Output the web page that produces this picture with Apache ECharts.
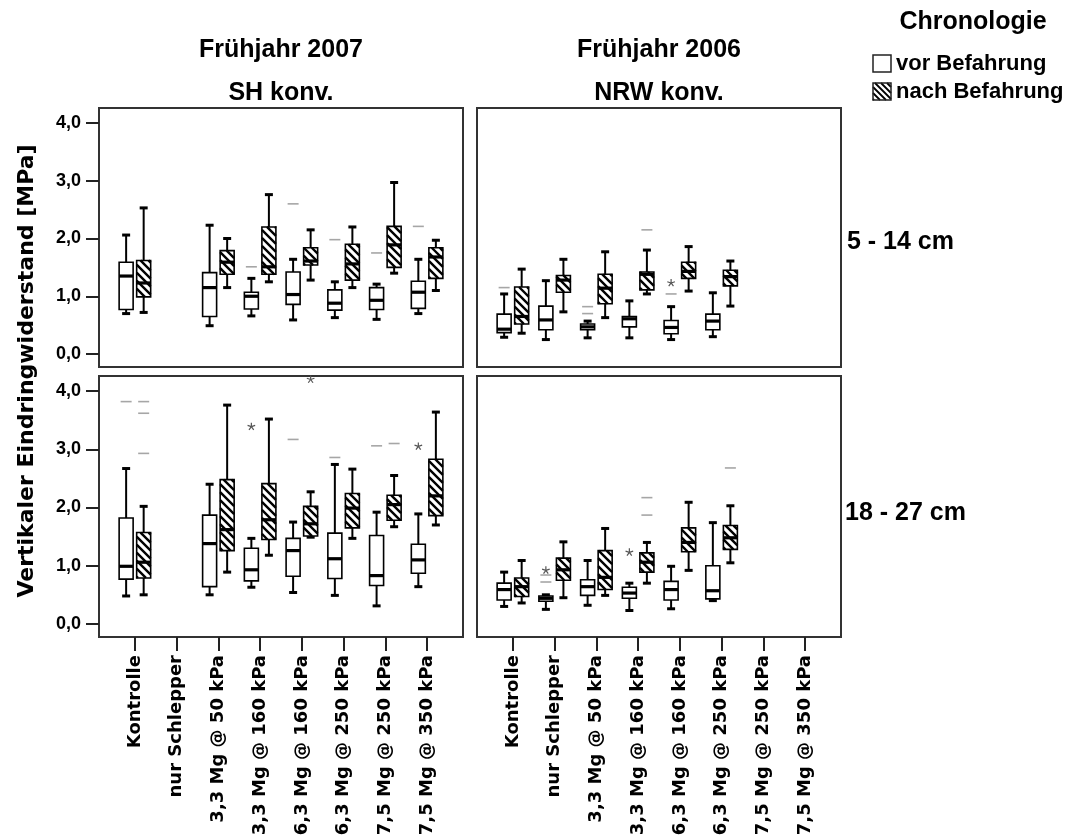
<!DOCTYPE html>
<html>
<head>
<meta charset="utf-8">
<script src="https://cdn.jsdelivr.net/npm/echarts@6/dist/echarts.min.js"></script>
<style>
  html, body { margin: 0; padding: 0; background: #fff; }
  #chart { width: 1074px; height: 840px; }
</style>
</head>
<body>
<div id="chart"></div>
<script>
// Treatment categories along the x axis
const categories = ['Kontrolle', 'nur Schlepper', '3,3 Mg @ 50 kPa', '3,3 Mg @ 160 kPa',
  '6,3 Mg @ 160 kPa', '6,3 Mg @ 250 kPa', '7,5 Mg @ 250 kPa', '7,5 Mg @ 350 kPa'];
const yTicks = [0, 1, 2, 3, 4];

// Box statistics per category: [whisker low, Q1, median, Q3, whisker high], null = no data
// SH konv. (Frühjahr 2007), 5 - 14 cm
const shTop_vor = [[0.70, 0.77, 1.35, 1.59, 2.06], null, [0.49, 0.65, 1.15, 1.41, 2.23], [0.66, 0.78, 1.00, 1.07, 1.31],
  [0.59, 0.86, 1.03, 1.42, 1.64], [0.63, 0.76, 0.88, 1.11, 1.25], [0.60, 0.77, 0.93, 1.15, 1.21], [0.70, 0.79, 1.07, 1.26, 1.64]];
const shTop_nach = [[0.72, 0.99, 1.23, 1.62, 2.53], null, [1.15, 1.38, 1.59, 1.79, 2.00], [1.25, 1.38, 1.51, 2.20, 2.76],
  [1.28, 1.54, 1.61, 1.84, 2.15], [1.15, 1.28, 1.56, 1.90, 2.20], [1.40, 1.50, 1.89, 2.21, 2.97], [1.10, 1.31, 1.68, 1.84, 1.97]];
// NRW konv. (Frühjahr 2006), 5 - 14 cm
const nrwTop_vor = [[0.29, 0.37, 0.43, 0.69, 1.04], [0.25, 0.42, 0.59, 0.83, 1.27], [0.28, 0.42, 0.47, 0.52, 0.57], [0.28, 0.47, 0.61, 0.65, 0.92],
  [0.25, 0.35, 0.46, 0.58, 0.82], [0.30, 0.42, 0.57, 0.69, 1.06], null, null];
const nrwTop_nach = [[0.36, 0.52, 0.65, 1.16, 1.47], [0.73, 1.07, 1.28, 1.36, 1.64], [0.63, 0.87, 1.14, 1.38, 1.77], [1.04, 1.11, 1.38, 1.42, 1.80],
  [1.09, 1.31, 1.43, 1.59, 1.86], [0.83, 1.18, 1.34, 1.45, 1.61], null, null];
// SH konv., 18 - 27 cm
const shBot_vor = [[0.48, 0.77, 0.99, 1.82, 2.67], null, [0.50, 0.64, 1.38, 1.87, 2.40], [0.63, 0.74, 0.93, 1.30, 1.47],
  [0.54, 0.82, 1.26, 1.47, 1.75], [0.49, 0.78, 1.12, 1.56, 2.74], [0.31, 0.66, 0.83, 1.52, 1.92], [0.64, 0.87, 1.10, 1.37, 1.89]];
const shBot_nach = [[0.50, 0.79, 1.06, 1.57, 2.02], null, [0.89, 1.26, 1.62, 2.48, 3.76], [1.18, 1.45, 1.79, 2.41, 3.52],
  [1.49, 1.51, 1.72, 2.02, 2.27], [1.47, 1.65, 1.99, 2.24, 2.66], [1.67, 1.78, 2.05, 2.21, 2.55], [1.70, 1.86, 2.20, 2.83, 3.64]];
// NRW konv., 18 - 27 cm
const nrwBot_vor = [[0.30, 0.41, 0.59, 0.70, 0.89], [0.25, 0.39, 0.44, 0.48, 0.50], [0.32, 0.49, 0.64, 0.76, 1.09], [0.23, 0.44, 0.53, 0.63, 0.70],
  [0.26, 0.41, 0.59, 0.73, 0.99], [0.40, 0.43, 0.57, 1.00, 1.74], null, null];
const nrwBot_nach = [[0.36, 0.47, 0.64, 0.79, 1.09], [0.45, 0.75, 0.93, 1.13, 1.41], [0.49, 0.59, 0.80, 1.26, 1.64], [0.70, 0.89, 1.06, 1.22, 1.40],
  [0.92, 1.24, 1.40, 1.65, 2.09], [1.05, 1.28, 1.48, 1.69, 2.03], null, null];

// Outliers (dash) and extreme values (star): [category index, value]
const shTop_vorOut = [[3, 1.51], [4, 2.60], [5, 1.98], [6, 1.75], [7, 2.21]];
const nrwTop_vorOut = [[0, 1.15], [2, 0.82], [2, 0.70], [4, 1.04]];
const nrwTop_vorExt = [[4, 1.23]];
const nrwTop_nachOut = [[3, 2.15]];
const shBot_vorOut = [[0, 3.82], [4, 3.17], [5, 2.86], [6, 3.06]];
const shBot_vorExt = [[3, 3.39], [7, 3.05]];
const shBot_nachOut = [[0, 3.82], [0, 3.62], [0, 2.93], [6, 3.10]];
const shBot_nachExt = [[4, 4.20]];
const nrwBot_vorOut = [[1, 0.84], [1, 0.72]];
const nrwBot_vorExt = [[1, 0.92], [3, 1.23]];
const nrwBot_nachOut = [[3, 2.17], [3, 1.87], [5, 2.68]];

const panels = [
  { vor: shTop_vor, nach: shTop_nach, vorOut: shTop_vorOut, nachOut: [], vorExt: [], nachExt: [] },
  { vor: nrwTop_vor, nach: nrwTop_nach, vorOut: nrwTop_vorOut, nachOut: nrwTop_nachOut, vorExt: nrwTop_vorExt, nachExt: [] },
  { vor: shBot_vor, nach: shBot_nach, vorOut: shBot_vorOut, nachOut: shBot_nachOut, vorExt: shBot_vorExt, nachExt: shBot_nachExt },
  { vor: nrwBot_vor, nach: nrwBot_nach, vorOut: nrwBot_vorOut, nachOut: nrwBot_nachOut, vorExt: nrwBot_vorExt, nachExt: [] }
];

// Layout
const gridBoxes = [
  { left: 99, top: 108, width: 364, height: 259 },
  { left: 477, top: 108, width: 364, height: 259 },
  { left: 99, top: 376, width: 364, height: 261 },
  { left: 477, top: 376, width: 364, height: 261 }
];
const X_MIN = -0.86, X_MAX = 7.86, Y_MIN = -0.225, Y_MAX = 4.26;
const OFFSET = 0.21;      // shift of each group from the category centre
const BOX_HALF = 7;       // px
const CAP_HALF = 4;       // px
const HATCH_STEP = 8;     // px
const ARIAL = '"Liberation Sans", Arial, sans-serif';
const DEJAVU = '"DejaVu Sans", Verdana, sans-serif';
const catIdx = categories.map((c, i) => i);

function hatchLines(x0, y0, w, h, step, lw) {
  const out = [];
  const kMin = x0 - (y0 + h), kMax = x0 + w - y0;
  for (let k = Math.ceil(kMin / step) * step; k <= kMax; k += step) {
    const xa = Math.max(x0, k + y0), xb = Math.min(x0 + w, k + y0 + h);
    if (xb - xa > 0.5) {
      out.push({ type: 'line', shape: { x1: xa, y1: xa - k, x2: xb, y2: xb - k },
        style: { stroke: '#000', lineWidth: lw, lineCap: 'butt' } });
    }
  }
  return out;
}

function boxRenderer(offset, hatched) {
  return function (params, api) {
    const c = api.value(0);
    const xc = api.coord([c + offset, 0])[0];
    const yLo = api.coord([c, api.value(1)])[1];
    const yQ1 = api.coord([c, api.value(2)])[1];
    const yMed = api.coord([c, api.value(3)])[1];
    const yQ3 = api.coord([c, api.value(4)])[1];
    const yHi = api.coord([c, api.value(5)])[1];
    const line = (x1, y1, x2, y2, lw) => ({ type: 'line', shape: { x1, y1, x2, y2 },
      style: { stroke: '#000', lineWidth: lw } });
    const children = [
      line(xc, yHi, xc, yQ3, 2),
      line(xc, yQ1, xc, yLo, 2),
      line(xc - CAP_HALF, yHi, xc + CAP_HALF, yHi, 3),
      line(xc - CAP_HALF, yLo, xc + CAP_HALF, yLo, 3),
      { type: 'rect', shape: { x: xc - BOX_HALF, y: yQ3, width: 2 * BOX_HALF, height: yQ1 - yQ3 },
        style: { fill: '#fff', stroke: null } }
    ];
    if (hatched) {
      hatchLines(xc - BOX_HALF, yQ3, 2 * BOX_HALF, yQ1 - yQ3, HATCH_STEP, 2.4).forEach(l => children.push(l));
    }
    children.push(line(xc - BOX_HALF, yMed, xc + BOX_HALF, yMed, 3.2));
    children.push({ type: 'rect', shape: { x: xc - BOX_HALF, y: yQ3, width: 2 * BOX_HALF, height: yQ1 - yQ3 },
      style: { fill: null, stroke: '#000', lineWidth: 1.6 } });
    return { type: 'group', children };
  };
}

function dashRenderer(offset) {
  return function (params, api) {
    const p = api.coord([api.value(0) + offset, api.value(1)]);
    return { type: 'line', shape: { x1: p[0] - 5.5, y1: p[1], x2: p[0] + 5.5, y2: p[1] },
      style: { stroke: '#a6a6a6', lineWidth: 1.6 } };
  };
}

function starRenderer(offset) {
  return function (params, api) {
    const p = api.coord([api.value(0) + offset, api.value(1)]);
    const r = 4;
    const arms = [];
    for (let a = 0; a < 5; a++) {
      const ang = -Math.PI / 2 + a * 2 * Math.PI / 5;
      arms.push({ type: 'line', shape: { x1: p[0], y1: p[1], x2: p[0] + r * Math.cos(ang), y2: p[1] + r * Math.sin(ang) },
        style: { stroke: '#555', lineWidth: 1.2 } });
    }
    return { type: 'group', children: arms };
  };
}

const toBoxData = arr => arr.map((b, i) => b ? [i].concat(b) : null).filter(Boolean);

const series = [];
panels.forEach((p, gi) => {
  [['vor', -OFFSET, false], ['nach', OFFSET, true]].forEach(([key, off, hatched]) => {
    series.push({
      type: 'custom', name: key, xAxisIndex: gi, yAxisIndex: gi,
      renderItem: boxRenderer(off, hatched),
      encode: { x: 0, y: [1, 2, 3, 4, 5] },
      data: toBoxData(p[key]), z: 3
    });
    series.push({
      type: 'custom', xAxisIndex: gi, yAxisIndex: gi,
      renderItem: dashRenderer(off), encode: { x: 0, y: 1 },
      data: p[key + 'Out'], z: 4
    });
    series.push({
      type: 'custom', xAxisIndex: gi, yAxisIndex: gi,
      renderItem: starRenderer(off), encode: { x: 0, y: 1 },
      data: p[key + 'Ext'], z: 4
    });
  });
});

const legendHatch = hatchLines(873, 83, 18, 17, 6, 1.8);

const option = {
  backgroundColor: '#fff',
  animation: false,
  grid: gridBoxes.map(g => Object.assign({ show: true, borderColor: '#333', borderWidth: 2, backgroundColor: 'transparent' }, g)),
  xAxis: [0, 1, 2, 3].map(i => ({
    gridIndex: i, type: 'value', min: X_MIN, max: X_MAX, position: 'bottom',
    axisLine: { show: false, onZero: false }, splitLine: { show: false },
    axisTick: { show: i >= 2, customValues: catIdx, length: 14, lineStyle: { color: '#222', width: 2 } },
    axisLabel: {
      show: i >= 2, customValues: catIdx, rotate: 90, margin: 18,
      formatter: v => categories[Math.round(v)],
      fontFamily: DEJAVU, fontWeight: 'bold', fontSize: 18, color: '#000'
    }
  })),
  yAxis: [0, 1, 2, 3].map(i => ({
    gridIndex: i, type: 'value', min: Y_MIN, max: Y_MAX, position: 'left',
    axisLine: { show: false, onZero: false }, splitLine: { show: false },
    axisTick: { show: i % 2 === 0, customValues: yTicks, length: 13, lineStyle: { color: '#222', width: 2 } },
    axisLabel: {
      show: i % 2 === 0, customValues: yTicks, margin: 18,
      formatter: v => v.toFixed(1).replace('.', ','),
      fontFamily: ARIAL, fontWeight: 'bold', fontSize: 18, color: '#000'
    }
  })),
  graphic: [
    { type: 'text', x: 281, y: 50, style: { text: 'Frühjahr 2007', align: 'center', verticalAlign: 'middle', font: 'bold 25px ' + ARIAL, fill: '#000' } },
    { type: 'text', x: 281, y: 93, style: { text: 'SH konv.', align: 'center', verticalAlign: 'middle', font: 'bold 25px ' + ARIAL, fill: '#000' } },
    { type: 'text', x: 659, y: 50, style: { text: 'Frühjahr 2006', align: 'center', verticalAlign: 'middle', font: 'bold 25px ' + ARIAL, fill: '#000' } },
    { type: 'text', x: 659, y: 93, style: { text: 'NRW konv.', align: 'center', verticalAlign: 'middle', font: 'bold 25px ' + ARIAL, fill: '#000' } },
    { type: 'text', x: 847, y: 242, style: { text: '5 - 14 cm', align: 'left', verticalAlign: 'middle', font: 'bold 25px ' + ARIAL, fill: '#000' } },
    { type: 'text', x: 845, y: 513, style: { text: '18 - 27 cm', align: 'left', verticalAlign: 'middle', font: 'bold 25px ' + ARIAL, fill: '#000' } },
    { type: 'text', x: 27, y: 371, rotation: Math.PI / 2, style: { text: 'Vertikaler Eindringwiderstand [MPa]', align: 'center', verticalAlign: 'middle', font: 'bold 22px ' + DEJAVU, fill: '#000' } },
    { type: 'text', x: 973, y: 22, style: { text: 'Chronologie', align: 'center', verticalAlign: 'middle', font: 'bold 25px ' + ARIAL, fill: '#000' } },
    { type: 'rect', shape: { x: 873, y: 55, width: 18, height: 17 }, style: { fill: '#fff', stroke: '#222', lineWidth: 1.5 } },
    { type: 'text', x: 896, y: 64, style: { text: 'vor Befahrung', align: 'left', verticalAlign: 'middle', font: 'bold 22px ' + ARIAL, fill: '#000' } },
    { type: 'rect', shape: { x: 873, y: 83, width: 18, height: 17 }, style: { fill: '#fff', stroke: null } }
  ].concat(legendHatch).concat([
    { type: 'rect', shape: { x: 873, y: 83, width: 18, height: 17 }, style: { fill: null, stroke: '#222', lineWidth: 1.5 } },
    { type: 'text', x: 896, y: 92, style: { text: 'nach Befahrung', align: 'left', verticalAlign: 'middle', font: 'bold 22px ' + ARIAL, fill: '#000' } }
  ]),
  series
};

const chart = echarts.init(document.getElementById('chart'), null, { renderer: 'canvas' });
chart.setOption(option);
</script>
</body>
</html>
